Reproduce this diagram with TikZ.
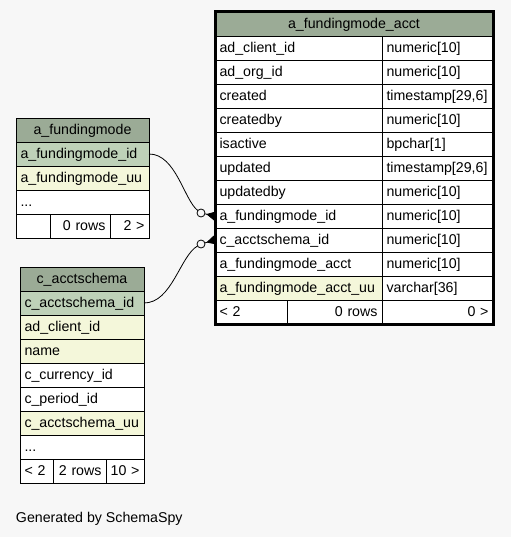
\documentclass[tikz,border=0pt]{standalone}
\usepackage{fontspec}
\setmainfont{Liberation Sans}
\usetikzlibrary{arrows.meta,positioning}

\definecolor{pagebg}{HTML}{F7F7F7}
\definecolor{tblhead}{HTML}{9BAB96}
\definecolor{pkcol}{HTML}{BED1B8}
\definecolor{idxcol}{HTML}{F4F7DA}

\begin{document}
\begin{tikzpicture}[
  x=1pt, y=-1pt,
  every node/.style={font=\fontsize{14.2}{16}\selectfont, inner sep=0pt, outer sep=0pt},
  cell/.style={draw, rectangle, fill=white, line width=0.8pt, minimum height=24pt,
    text height=11pt, text depth=2pt, inner xsep=4.5pt},
  head/.style={cell, fill=tblhead},
  pk/.style={fill=pkcol},
  idx/.style={fill=idxcol},
  acol/.style={cell, text width=158pt, align=left},
  tcol/.style={cell, text width=102pt, align=left},
  fcol/.style={cell, text width=124pt, align=left},
  scol/.style={cell, text width=115pt, align=left},
  odot/.style={circle, draw, fill=pagebg, line width=0.8pt, minimum size=8pt},
  link/.style={line width=0.8pt},
  crow/.style={link, -{Triangle[reversed, length=9pt, width=9pt]}}
]
\fill[pagebg] (0,0) rectangle (511,537);
\useasboundingbox (0,0) rectangle (511,537);

\node[head, minimum width=278pt, anchor=north west] (acct) at (215,12) {a\_fundingmode\_acct};
\node[acol, below right=0pt and 0pt of acct.south west] (acct_client) {ad\_client\_id};
\node[tcol, right=0pt of acct_client] (acct_client_t) {numeric[10]};
\node[acol, below=0pt of acct_client] (acct_org) {ad\_org\_id};
\node[tcol, right=0pt of acct_org] (acct_org_t) {numeric[10]};
\node[acol, below=0pt of acct_org] (acct_created) {created};
\node[tcol, right=0pt of acct_created] (acct_created_t) {timestamp[29,6]};
\node[acol, below=0pt of acct_created] (acct_createdby) {createdby};
\node[tcol, right=0pt of acct_createdby] (acct_createdby_t) {numeric[10]};
\node[acol, below=0pt of acct_createdby] (acct_active) {isactive};
\node[tcol, right=0pt of acct_active] (acct_active_t) {bpchar[1]};
\node[acol, below=0pt of acct_active] (acct_updated) {updated};
\node[tcol, right=0pt of acct_updated] (acct_updated_t) {timestamp[29,6]};
\node[acol, below=0pt of acct_updated] (acct_updatedby) {updatedby};
\node[tcol, right=0pt of acct_updatedby] (acct_updatedby_t) {numeric[10]};
\node[acol, below=0pt of acct_updatedby] (acct_fm) {a\_fundingmode\_id};
\node[tcol, right=0pt of acct_fm] (acct_fm_t) {numeric[10]};
\node[acol, below=0pt of acct_fm] (acct_as) {c\_acctschema\_id};
\node[tcol, right=0pt of acct_as] (acct_as_t) {numeric[10]};
\node[acol, below=0pt of acct_as] (acct_key) {a\_fundingmode\_acct};
\node[tcol, right=0pt of acct_key] (acct_key_t) {numeric[10]};
\node[acol, idx, below=0pt of acct_key] (acct_uu) {a\_fundingmode\_acct\_uu};
\node[tcol, right=0pt of acct_uu] (acct_uu_t) {varchar[36]};
\node[cell, text width=63pt, align=left, below right=0pt and 0pt of acct_uu.south west] (acct_prev) {<~2};
\node[cell, text width=86pt, align=right, right=0pt of acct_prev] (acct_rows) {0~rows};
\node[tcol, align=right, right=0pt of acct_rows] (acct_next) {0~>};
\draw[line width=3pt] (acct.north west) rectangle (acct_next.south east);

\node[head, minimum width=133pt, anchor=north west] (fm) at (16,118) {a\_fundingmode};
\node[fcol, pk, below=0pt of fm] (fm_id) {a\_fundingmode\_id};
\node[fcol, idx, below=0pt of fm_id] (fm_uu) {a\_fundingmode\_uu};
\node[fcol, below=0pt of fm_uu] (fm_more) {...};
\node[cell, text width=25pt, below right=0pt and 0pt of fm_more.south west] (fm_prev) {};
\node[cell, text width=51pt, align=right, right=0pt of fm_prev] (fm_rows) {0~rows};
\node[cell, text width=30pt, align=right, right=0pt of fm_rows] (fm_next) {2~>};

\node[head, minimum width=124pt, anchor=north west] (as) at (20,267) {c\_acctschema};
\node[scol, pk, below=0pt of as] (as_id) {c\_acctschema\_id};
\node[scol, idx, below=0pt of as_id] (as_client) {ad\_client\_id};
\node[scol, idx, below=0pt of as_client] (as_name) {name};
\node[scol, below=0pt of as_name] (as_currency) {c\_currency\_id};
\node[scol, below=0pt of as_currency] (as_period) {c\_period\_id};
\node[scol, idx, below=0pt of as_period] (as_uu) {c\_acctschema\_uu};
\node[scol, below=0pt of as_uu] (as_more) {...};
\node[cell, text width=24pt, align=left, below right=0pt and 0pt of as_more.south west] (as_prev) {<~2};
\node[cell, text width=44pt, align=right, right=0pt of as_prev] (as_rows) {2~rows};
\node[cell, text width=29pt, align=right, right=0pt of as_rows] (as_next) {10~>};

\node[odot] (fm_dot) at (201,213) {};
\node[odot] (as_dot) at (201,244) {};
\draw[link] (fm_id.east) .. controls (176,154) and (184,200) .. (fm_dot);
\draw[crow] (fm_dot) -- (acct_fm.west);
\draw[link] (as_id.east) .. controls (172,303) and (180,256) .. (as_dot);
\draw[crow] (as_dot) -- (acct_as.west);

\node[anchor=base west] (credit) at (16,522) {Generated by SchemaSpy};
\end{tikzpicture}
\end{document}
